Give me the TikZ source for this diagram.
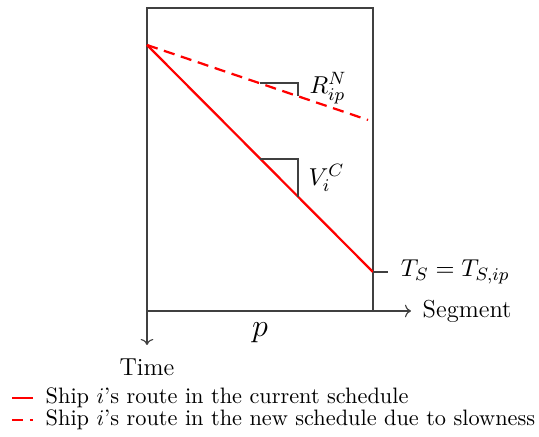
\documentclass[tikz,border=0pt]{standalone}
\usetikzlibrary{arrows.meta}
\begin{document}
\begin{tikzpicture}[x=0.448pt,y=-0.448pt,
  frame/.style={draw=black!75,line width=0.5pt},
  axis/.style={draw=black!75,line width=0.5pt,->},
  route/.style={draw=red,line width=1pt},
  newroute/.style={draw=red,line width=1pt,dash pattern=on 5pt off 3pt},
  lbl/.style={inner sep=1pt},
  big/.style={font=\fontsize{11pt}{13pt}\selectfont}]
\useasboundingbox (0,0) rectangle (539,437);
\coordinate (tl) at (147,8);
\coordinate (br) at (373,311);
\draw[frame] (tl) rectangle (br);
\coordinate (o) at (147,311);
\coordinate (xe) at (411,311);
\coordinate (ye) at (147,345);
\draw[axis] (o) -- (xe) node[right,lbl,big,xshift=4pt] (seg) {Segment};
\draw[axis] (o) -- (ye);
\node[big] (time) at (147,367) {Time};
\node (p) at (260,333) {\Large $p$};
% routes
\coordinate (s) at (147,45);
\coordinate (e1) at (373,272);
\coordinate (e2) at (368,120);
\draw[route] (s) -- (e1);
\draw[newroute] (s) -- (e2);
% T_S
\coordinate (ts) at (388,272);
\draw[frame] (e1) -- (ts) node[right,lbl,big,xshift=4.5pt] (tlab) {$T_S = T_{S,ip}$};
% slope triangles
\coordinate (r1) at (260,83);
\coordinate (r2) at (298,83);
\coordinate (r3) at (298,96);
\draw[frame] (r1) -- (r2) -- (r3);
\node[right,lbl,big] (rlab) at (307,88) {$R_{ip}^N$};
\coordinate (v1) at (260,159);
\coordinate (v2) at (298,159);
\coordinate (v3) at (298,197);
\draw[frame] (v1) -- (v2) -- (v3);
\node[right,lbl,big] (vlab) at (306,178) {$V_i^C$};
% legend
\coordinate (l1a) at (12,398);
\coordinate (l1b) at (33,398);
\coordinate (l2a) at (12,420);
\coordinate (l2b) at (33,420);
\draw[route] (l1a) -- (l1b);
\draw[newroute] (l2a) -- (l2b);
\node[right,lbl] (leg1) at (43,398) {Ship $i$'s route in the current schedule};
\node[right,lbl] (leg2) at (43,420) {Ship $i$'s route in the new schedule due to slowness};
\end{tikzpicture}
\end{document}
